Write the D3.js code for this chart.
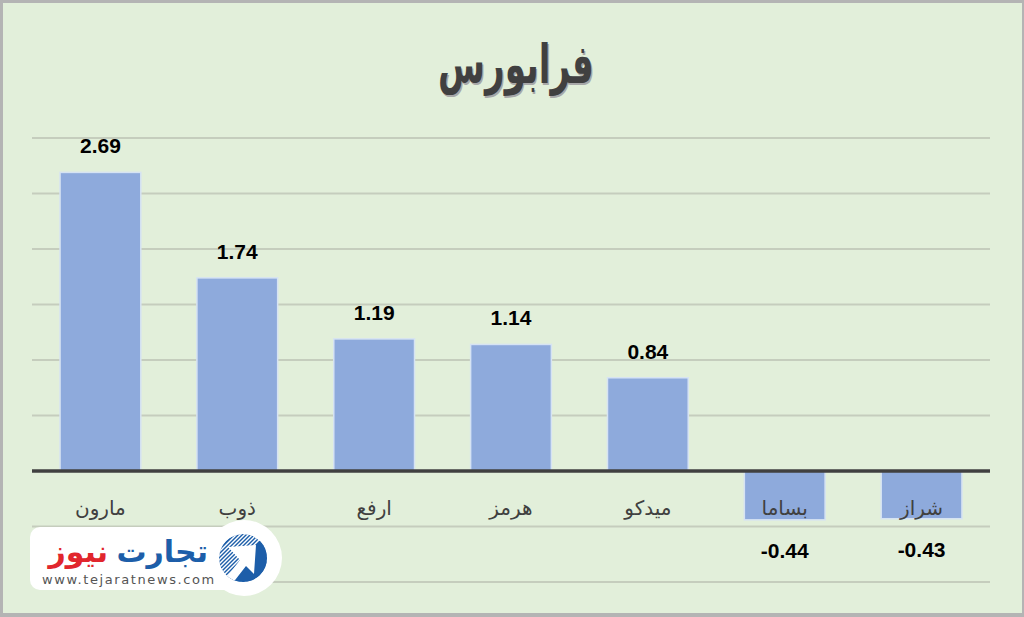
<!DOCTYPE html>
<html><head><meta charset="utf-8">
<script src="https://cdn.jsdelivr.net/npm/d3@7"></script>
<style>html,body{margin:0;padding:0;background:#fff;}svg{display:block;}</style>
</head><body>
<svg id="c" width="1024" height="617"></svg>
<script>
const categories = ["مارون","ذوب","ارفع","هرمز","میدکو","بساما","شراز"];
const values = [2.69, 1.74, 1.19, 1.14, 0.84, -0.44, -0.43];
const valueLabels = ["2.69","1.74","1.19","1.14","0.84","-0.44","-0.43"];
const gridTicks = [-1,-0.5,0,0.5,1,1.5,2,2.5,3];
const title = "فرابورس";

const svg = d3.select("#c");
const W = 1024, H = 617;
// frame
svg.append("rect").attr("x",0).attr("y",0).attr("width",W).attr("height",H).attr("fill","#b4b4b4");
svg.append("rect").attr("x",3).attr("y",3).attr("width",W-5).attr("height",H-7).attr("fill","#e2efda");

const x = d3.scaleBand().domain(categories).range([32,990]).paddingInner(0.41).paddingOuter(0.205);
const y = d3.scaleLinear().domain([-1,3]).range([582,138]);

// gridlines
svg.append("g").selectAll("line").data(gridTicks.filter(t=>t!==0)).join("line")
  .attr("x1",32).attr("x2",990).attr("y1",d=>y(d)).attr("y2",d=>y(d))
  .attr("stroke","#c5cdbd").attr("stroke-width",2);

// title
const tg = svg.append("g").attr("transform","translate(516,68) scale(0.74,1.18)");
tg.append("text").attr("x",1.5).attr("y",1.5).attr("text-anchor","middle").attr("dominant-baseline","middle")
  .attr("font-family","DejaVu Sans, Noto Sans").attr("font-weight","bold").attr("font-size",46)
  .attr("fill","#a8a8a8").text(title);
tg.append("text").attr("x",0).attr("y",0).attr("text-anchor","middle").attr("dominant-baseline","middle")
  .attr("font-family","DejaVu Sans, Noto Sans").attr("font-weight","bold").attr("font-size",46)
  .attr("fill","#404040").text(title);

// bars
svg.append("g").selectAll("rect").data(values).join("rect")
  .attr("x",(d,i)=>x(categories[i]))
  .attr("width",x.bandwidth())
  .attr("y",d=>y(Math.max(0,d)))
  .attr("height",d=>Math.abs(y(d)-y(0)))
  .attr("fill","#8eaadc").attr("stroke","#d6e3f3").attr("stroke-width",1.5);

// zero line
svg.append("line").attr("x1",32).attr("x2",990).attr("y1",y(0)).attr("y2",y(0))
  .attr("stroke","#404040").attr("stroke-width",3.5);

// category labels
svg.append("g").selectAll("text").data(categories).join("text")
  .attr("x",d=>x(d)+x.bandwidth()/2).attr("y",y(0)+44)
  .attr("text-anchor","middle").attr("font-family","DejaVu Sans").attr("font-size",20)
  .attr("fill","#404040").text(d=>d);

// value labels
svg.append("g").selectAll("text").data(values).join("text")
  .attr("x",(d,i)=>x(categories[i])+x.bandwidth()/2)
  .attr("y",d=> d>=0 ? y(d)-19 : y(d)+38)
  .attr("text-anchor","middle").attr("font-family","Liberation Sans, Arial").attr("font-weight","bold").attr("font-size",21)
  .attr("fill","#000").text((d,i)=>valueLabels[i]);

// logo
const lg = svg.append("g");
lg.append("rect").attr("x",30).attr("y",527).attr("width",210).attr("height",63).attr("rx",10)
  .attr("fill","#fff");
lg.append("circle").attr("cx",244).attr("cy",558).attr("r",38).attr("fill","#fff");
lg.append("text").attr("x",208).attr("y",562).attr("text-anchor","end").attr("font-family","DejaVu Sans")
  .attr("font-weight","bold").attr("font-size",30).attr("fill","#1d5ea9").text("تجارت");
lg.append("text").attr("x",108).attr("y",562).attr("text-anchor","end").attr("font-family","DejaVu Sans")
  .attr("font-weight","bold").attr("font-size",30).attr("fill","#e1262d").text("نیوز");
lg.append("text").attr("x",42).attr("y",584).attr("font-family","DejaVu Sans").attr("font-size",13)
  .attr("letter-spacing",1.6).attr("fill","#555").text("www.tejaratnews.com");
const defs = svg.append("defs");
defs.append("clipPath").attr("id","lc").append("circle").attr("cx",243).attr("cy",558).attr("r",24);
const ic = lg.append("g").attr("clip-path","url(#lc)");
ic.append("circle").attr("cx",243).attr("cy",558).attr("r",24).attr("fill","#1d5ea9");
const stripes = d3.range(-30,30,4);
ic.append("g").selectAll("line").data(stripes).join("line")
  .attr("x1",d=>243+d-40).attr("y1",d=>558+40).attr("x2",d=>243+d+40).attr("y2",d=>558-40)
  .attr("stroke","#fff").attr("stroke-width",1.4);
ic.append("path").attr("d","M 270 530 L 270 590 L 215 590 Z").attr("fill","#1d5ea9");
ic.append("path").attr("d","M 228 547 L 256 545 L 254 574 L 246 566 L 232 584 L 226 578 L 240 560 Z").attr("fill","#fff");
</script>
</body></html>
